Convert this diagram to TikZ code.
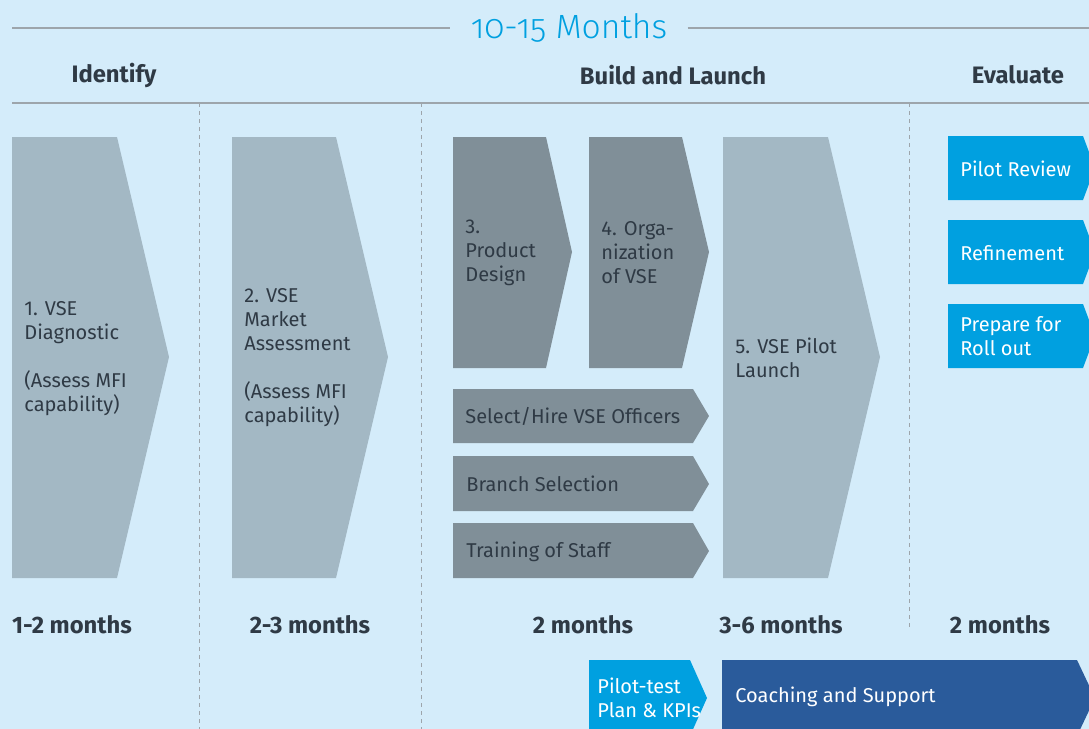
\documentclass[tikz,border=0pt]{standalone}
\usepackage{fontspec}
\setmainfont{Fira Sans}
\newfontfamily\titlefont[Numbers=OldStyle]{Fira Sans Light}
\usetikzlibrary{positioning}

\definecolor{bgblue}{HTML}{D4ECFA}
\definecolor{palegrey}{HTML}{A3B8C4}
\definecolor{darkgrey}{HTML}{808F98}
\definecolor{skyblue}{HTML}{00A0E0}
\definecolor{navyblue}{HTML}{2A5B9B}
\definecolor{inkgrey}{HTML}{2F3A45}
\definecolor{rulegrey}{HTML}{9DA5AB}

\tikzset{
  steptext/.style = {anchor = west, align = left, inner sep = 0pt, text = inkgrey,
    font = \fontsize{10}{12}\selectfont},
  whitetext/.style = {steptext, text = white},
  headtext/.style = {inner sep = 0pt, text = inkgrey, font = \fontsize{11.9}{13}\selectfont\bfseries},
  rule/.style = {draw = rulegrey, line width = 0.8pt},
  divider/.style = {draw = rulegrey, line width = 0.5pt, dash pattern = on 2pt off 2pt}
}

\begin{document}
\begin{tikzpicture}[x = 0.5pt, y = -0.5pt]
    \useasboundingbox (0,0) rectangle (1089,729);
    \fill [bgblue] (0,0) rectangle (1089,729);
    \clip (0,0) rectangle (1089,729);

    \node [inner xsep = 10pt, inner ysep = 0pt, text = skyblue, font = \titlefont\fontsize{16.8}{18}\selectfont] (title) at (569,28) {10-15 Months};
    \draw [rule] (12,28) -- (title.west);
    \draw [rule] (title.east) -- (1089,28);

    \node [headtext] (identify) at (114,75) {Identify};
    \node [headtext] (build) at (673,75) {Build and Launch};
    \node [headtext] (evaluate) at (1018,75) {Evaluate};

    \draw [rule] (12,103) -- (1089,103);
    \draw [divider] (199,103) -- (199,729);
    \draw [divider] (421,103) -- (421,729);
    \draw [divider] (909,103) -- (909,630);

    \fill [palegrey] (12,137) -- (117,137) -- (169,357) -- (117,578) -- (12,578) -- cycle;
    \node [steptext] (diagnostic) at (24,359) {1. VSE\\Diagnostic\\[12pt](Assess MFI\\capability)};

    \fill [palegrey] (232,137) -- (336,137) -- (388,357) -- (336,578) -- (232,578) -- cycle;
    \node [steptext] (market) at (244,358) {2. VSE\\Market\\Assessment\\[12pt](Assess MFI\\capability)};

    \fill [darkgrey] (453,137) -- (546,137) -- (572,252) -- (546,368) -- (453,368) -- cycle;
    \node [steptext] (product) at (465,253) {3.\\Product\\Design};

    \fill [darkgrey] (589,137) -- (682,137) -- (709,252) -- (682,368) -- (589,368) -- cycle;
    \node [steptext] (organization) at (601,253) {4. Orga-\\nization\\of VSE};

    \fill [darkgrey] (453,389) -- (693,389) -- (709,416) -- (693,443) -- (453,443) -- cycle;
    \node [steptext] (officers) at (465,416) {Select/Hire VSE Officers};

    \fill [darkgrey] (453,456) -- (693,456) -- (709,484) -- (693,511) -- (453,511) -- cycle;
    \node [steptext] (branch) at (466,484) {Branch Selection};

    \fill [darkgrey] (453,523) -- (693,523) -- (709,551) -- (693,578) -- (453,578) -- cycle;
    \node [steptext] (training) at (466,552) {Training of Staff};

    \fill [palegrey] (723,137) -- (828,137) -- (880,357) -- (828,578) -- (723,578) -- cycle;
    \node [steptext] (launch) at (735,358) {5. VSE Pilot\\Launch};

    \fill [skyblue] (948,136) -- (1083,136) -- (1095,168) -- (1083,200) -- (948,200) -- cycle;
    \node [whitetext] (review) at (960,169) {Pilot Review};

    \fill [skyblue] (948,220) -- (1083,220) -- (1095,252) -- (1083,284) -- (948,284) -- cycle;
    \node [whitetext] (refinement) at (960,253) {Refinement};

    \fill [skyblue] (948,304) -- (1083,304) -- (1095,336) -- (1083,368) -- (948,368) -- cycle;
    \node [whitetext] (rollout) at (960,336) {Prepare for\\Roll out};

    \node [headtext] (months1) at (72,625) {1-2 months};
    \node [headtext] (months2) at (310,625) {2-3 months};
    \node [headtext] (months3) at (583,625) {2 months};
    \node [headtext] (months4) at (781,625) {3-6 months};
    \node [headtext] (months5) at (1000,625) {2 months};

    \fill [skyblue] (589,660) -- (690,660) -- (707,698) -- (690,736) -- (589,736) -- cycle;
    \node [whitetext] (pilotplan) at (597,698) {Pilot-test\\Plan \& KPIs};

    \fill [navyblue] (722,660) -- (1077,660) -- (1095,698) -- (1077,736) -- (722,736) -- cycle;
    \node [whitetext] (coaching) at (735,697) {Coaching and Support};
\end{tikzpicture}
\end{document}
